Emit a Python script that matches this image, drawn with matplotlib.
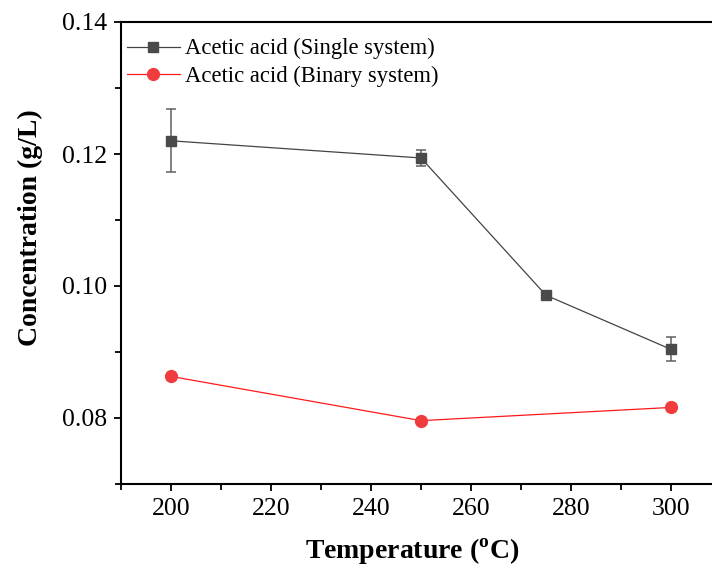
import matplotlib
matplotlib.use("Agg")
import matplotlib.pyplot as plt
from matplotlib.ticker import MultipleLocator, FormatStrFormatter
from matplotlib.lines import Line2D

plt.rcParams["font.family"] = ["Liberation Serif", "DejaVu Serif"]
plt.rcParams["mathtext.fontset"] = "custom"
plt.rcParams["mathtext.rm"] = "Liberation Serif"
plt.rcParams["mathtext.bf"] = "Liberation Serif:bold"

# Acetic acid concentration vs. temperature
temp_single = [200, 250, 275, 300]
conc_single = [0.1220, 0.1194, 0.0986, 0.0904]
err_single = [0.0048, 0.0012, 0.0, 0.0018]

temp_binary = [200, 250, 300]
conc_binary = [0.0863, 0.0796, 0.0816]

labels = ["Acetic acid (Single system)", "Acetic acid (Binary system)"]

fig = plt.figure(figsize=(7.12, 5.67), dpi=100)
ax = fig.add_axes([121 / 712, 83 / 567, 600 / 712, 462 / 567])

single_kw = dict(color="#444444", marker="s", markersize=7,
                 markerfacecolor="#4a4a4a", markeredgecolor="#4a4a4a",
                 linewidth=0.9)
binary_kw = dict(color="#ff1a1a", marker="o", markersize=8.5,
                 markerfacecolor="#f03c3c", markeredgecolor="#f03c3c",
                 linewidth=0.9)

ax.errorbar(temp_single, conc_single, yerr=err_single, elinewidth=1.1,
            ecolor="#606060", capsize=3.5, capthick=1.1, **single_kw)
ax.plot(temp_binary, conc_binary, **binary_kw)

ax.set_xlim(190, 310)
ax.set_ylim(0.07, 0.14)
ax.xaxis.set_major_locator(MultipleLocator(20))
ax.xaxis.set_minor_locator(MultipleLocator(10))
ax.yaxis.set_major_locator(MultipleLocator(0.02))
ax.yaxis.set_minor_locator(MultipleLocator(0.01))
ax.yaxis.set_major_formatter(FormatStrFormatter("%.2f"))
ax.tick_params(which="major", direction="out", length=5, width=1.3,
               labelsize=18.5, top=False, right=False, pad=5)
ax.tick_params(which="minor", direction="out", length=4, width=1.3,
               top=False, right=False)
for side in ("left", "bottom", "top"):
    ax.spines[side].set_linewidth(1.5)
ax.spines["right"].set_visible(False)

ax.set_xlabel(r"Temperature ($^{\mathbf{o}}$C)", fontsize=20,
              fontweight="bold")
ax.xaxis.set_label_coords((412 - 121) / 600, -(537 - 484) / 462)
ax.set_ylabel("Concentration (g/L)", fontsize=20, fontweight="bold")
ax.yaxis.set_label_coords(-(121 - 43) / 600, (484 - 228) / 462)

handles = [Line2D([], [], **single_kw), Line2D([], [], **binary_kw)]
ax.legend(handles, labels, loc="upper left", frameon=False, fontsize=16.3,
          handlelength=2.35, borderpad=0.1, borderaxespad=0.0,
          handletextpad=0.22, labelspacing=0.28,
          bbox_to_anchor=(0.006, 1 - 14 / 462))

fig.savefig("out.png", dpi=100)
